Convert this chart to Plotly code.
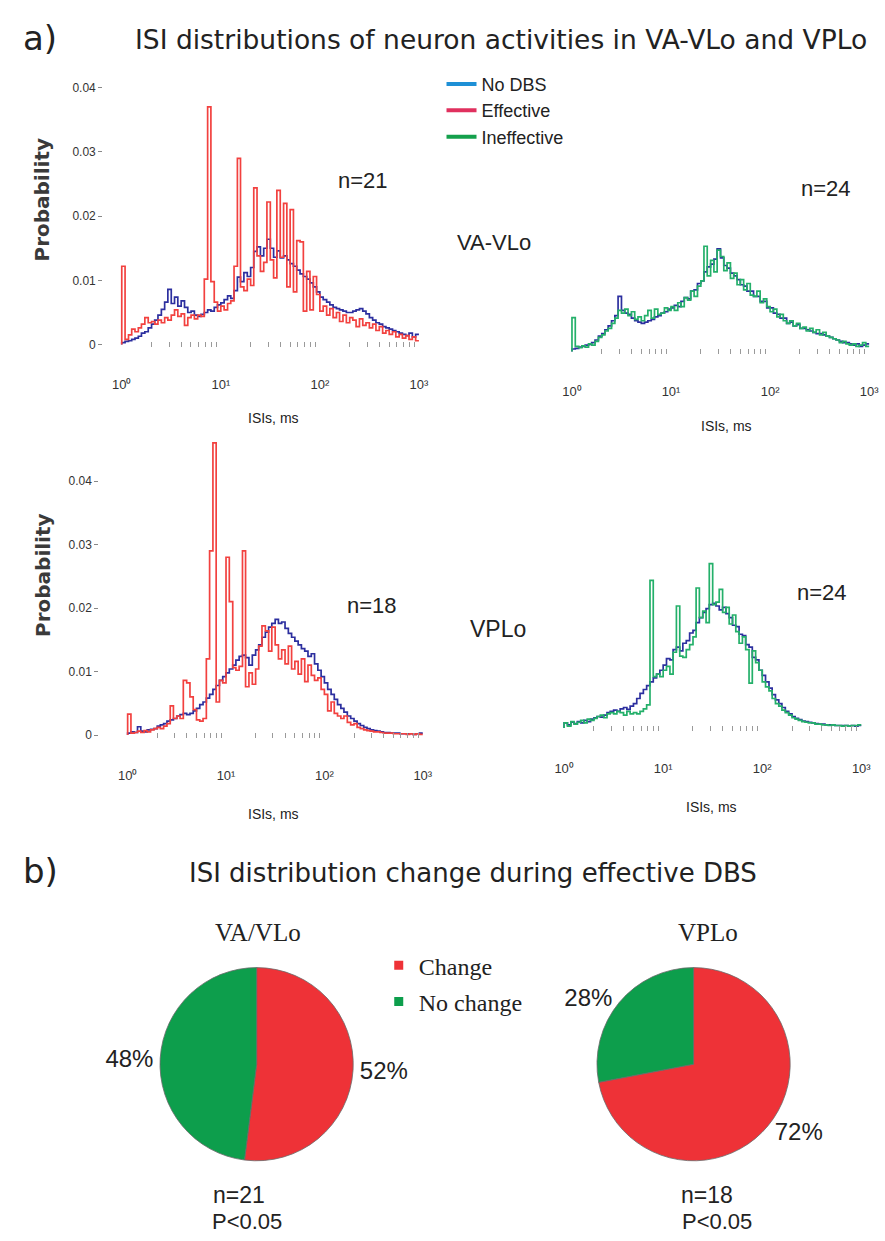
import plotly.graph_objects as go

W, H = 885, 1241


def px(x):
    return x / W


def py(y):
    return 1 - y / H


# ---------------- data ----------------
# left edges of ISI bins (ms), last value closes the final bin
isi_edges_ms = [
    1.00, 1.08, 1.17, 1.26, 1.36, 1.47, 1.58, 1.71, 1.85, 2.00,
    2.15, 2.32, 2.51, 2.71, 2.92, 3.16, 3.41, 3.68, 3.98, 4.30,
    4.64, 5.01, 5.41, 5.84, 6.31, 6.81, 7.36, 7.94, 8.58, 9.26,
    10.0, 10.8, 11.7, 12.6, 13.6, 14.7, 15.8, 17.1, 18.5, 20.0,
    21.5, 23.2, 25.1, 27.1, 29.2, 31.6, 34.1, 36.8, 39.8, 43.0,
    46.4, 50.1, 54.1, 58.4, 63.1, 68.1, 73.6, 79.4, 85.8, 92.6,
    100, 108, 117, 126, 136, 147, 158, 171, 185, 200,
    215, 232, 251, 271, 292, 316, 341, 368, 398, 430,
    464, 501, 541, 584, 631, 681, 736, 794, 858, 926,
    1000,
]

# probabilities per bin, in units of 1e-3
va_nodbs_eff = [
    0.3, 0.5, 0.6, 0.8, 1.0, 1.3, 1.8, 2.0, 2.6, 3.2,
    3.8, 4.6, 5.5, 6.6, 8.6, 6.4, 7.4, 6.0, 6.8, 5.8,
    5.0, 5.2, 4.6, 4.4, 4.7, 5.0, 5.4, 5.2, 5.8, 6.2,
    6.5, 7.0, 7.6, 7.2, 8.4, 10.5, 9.8, 11.2, 10.6, 12.0,
    14.5, 15.2, 13.8, 15.0, 16.4, 15.0, 13.6, 14.6, 13.5, 13.8,
    13.2, 12.6, 12.2, 11.6, 11.0, 10.6, 10.2, 9.6, 9.0, 8.2,
    7.4, 7.0, 6.6, 6.2, 5.8, 5.6, 5.4, 5.2, 5.0, 5.0,
    5.2, 5.4, 5.6, 5.2, 4.8, 4.2, 3.8, 3.4, 3.2, 2.8,
    2.6, 2.4, 2.2, 2.0, 1.8, 1.6, 1.4, 1.8, 1.2, 1.6,
]
va_effective = [
    12.2, 0.8, 1.5, 2.4, 2.0, 2.6, 3.2, 4.2, 3.4, 3.6,
    3.2, 3.8, 3.4, 4.2, 3.8, 4.6, 5.4, 4.4, 4.8, 3.0,
    4.2, 4.6, 4.0, 4.6, 4.4, 10.2, 37.0, 9.8, 6.6, 5.2,
    6.0, 5.4, 6.4, 6.8, 12.2, 29.0, 9.0, 8.4, 10.2, 9.2,
    24.4, 13.8, 11.4, 12.8, 22.2, 13.2, 10.4, 24.0, 13.6, 22.0,
    9.0, 21.0, 8.2, 16.2, 16.0, 5.2, 11.4, 5.4, 10.6, 7.8,
    5.2, 6.0, 4.6, 5.6, 4.2, 5.0, 3.6, 4.6, 3.4, 4.2,
    3.8, 2.8, 4.0, 3.0, 3.4, 2.6, 3.2, 2.2, 2.8, 1.8,
    2.2, 1.6, 2.0, 1.2, 1.6, 1.0, 1.4, 0.8, 1.2, 0.6,
]
va_nodbs_ineff = [
    0.4, 0.5, 0.7, 0.8, 1.0, 1.1, 1.4, 1.8, 2.4, 2.8,
    3.4, 4.0, 4.8, 5.6, 8.6, 6.4, 6.0, 5.8, 5.2, 4.8,
    4.6, 4.4, 4.6, 4.8, 5.0, 5.4, 5.6, 6.0, 6.2, 6.6,
    6.8, 7.2, 7.0, 7.8, 8.4, 8.2, 9.4, 9.6, 10.6, 11.0,
    12.4, 13.2, 13.6, 14.4, 16.0, 14.6, 13.4, 13.0, 12.2, 11.8,
    11.2, 10.4, 10.2, 9.4, 9.4, 8.6, 8.6, 7.8, 7.8, 6.8,
    6.8, 6.0, 5.8, 5.2, 5.2, 4.4, 4.6, 4.0, 4.2, 3.6,
    3.6, 3.4, 3.2, 3.0, 2.8, 2.8, 2.6, 2.4, 2.2, 2.0,
    1.8, 1.6, 1.4, 1.4, 1.2, 1.0, 1.2, 0.8, 1.0, 1.2,
]
va_ineffective = [
    5.3, 0.8, 0.6, 0.9, 0.7, 1.2, 1.0, 1.6, 2.2, 2.6,
    3.2, 3.6, 4.4, 5.2, 6.4, 6.0, 6.6, 5.6, 6.2, 5.0,
    5.4, 4.8, 5.6, 6.4, 5.2, 6.6, 5.8, 6.0, 6.8, 6.4,
    7.0, 6.4, 7.6, 7.0, 8.4, 8.0, 9.4, 8.6, 10.2, 11.0,
    16.4, 11.8, 14.2, 12.4, 15.8, 14.8, 12.6, 13.8, 11.4, 12.2,
    10.4, 11.2, 9.6, 10.6, 8.8, 8.6, 9.4, 7.6, 8.2, 7.0,
    6.2, 6.6, 5.4, 5.8, 4.8, 4.4, 4.8, 4.0, 4.4, 3.6,
    3.8, 3.2, 3.6, 3.0, 3.4, 2.6, 3.0, 2.4, 2.2, 2.0,
    1.8, 1.4, 1.6, 1.2, 1.0, 1.2, 0.8, 1.0, 1.4, 0.8,
]
vp_nodbs_eff = [
    0.3, 0.5, 0.4, 1.3, 0.6, 0.5, 0.8, 0.9, 1.0, 1.4,
    1.6, 1.8, 2.2, 2.4, 2.6, 3.0, 3.2, 3.4, 3.2, 3.4,
    3.8, 4.2, 4.8, 5.2, 5.8, 6.4, 7.2, 7.8, 8.6, 9.2,
    9.8, 10.4, 11.0, 11.8, 12.4, 12.6, 12.2, 11.0, 12.6, 13.4,
    14.2, 15.4, 16.2, 17.0, 17.6, 18.2, 17.6, 17.8, 16.8, 16.0,
    15.4, 14.8, 14.2, 13.6, 13.2, 12.4, 12.8, 11.2, 10.2, 9.2,
    8.2, 7.2, 6.4, 5.6, 4.8, 4.2, 3.6, 3.0, 2.6, 2.2,
    1.8, 1.5, 1.2, 1.0, 0.8, 0.7, 0.6, 0.5, 0.4, 0.4,
    0.3, 0.3, 0.3, 0.2, 0.2, 0.2, 0.2, 0.1, 0.2, 0.3,
]
vp_effective = [
    3.3, 0.3, 0.4, 0.6, 0.4, 0.7, 0.5, 0.8, 1.0, 1.2,
    1.0, 1.4, 1.8, 4.6, 2.6, 3.0, 2.6, 8.6, 8.2, 6.0,
    4.0, 2.4, 2.2, 2.6, 12.0, 29.0, 46.0, 5.2, 8.6, 8.2,
    28.0, 21.0, 10.6, 10.2, 10.8, 29.0, 7.6, 9.8, 8.0, 10.4,
    14.0, 17.2, 16.4, 13.2, 17.0, 14.2, 12.0, 13.4, 11.2, 14.0,
    10.4, 11.6, 9.6, 12.0, 8.4, 11.0, 9.4, 8.6, 9.0, 7.2,
    6.4, 3.8, 5.2, 3.4, 3.0, 2.6, 3.0, 2.0, 1.6, 1.8,
    1.2, 1.0, 0.8, 0.7, 0.6, 0.5, 0.5, 0.4, 0.3, 0.3,
    0.3, 0.2, 0.2, 0.2, 0.2, 0.1, 0.2, 0.1, 0.2, 0.1,
]
vp_nodbs_ineff = [
    0.8, 0.5, 0.9, 0.7, 1.0, 0.8, 1.2, 1.0, 1.4, 1.6,
    1.8, 1.7, 2.0, 2.4, 2.6, 2.8, 2.6, 3.0, 3.2, 2.9,
    3.4, 3.8, 4.6, 5.4, 6.0, 6.6, 7.2, 7.8, 8.4, 9.0,
    9.8, 10.8, 10.6, 12.2, 12.6, 12.0, 13.2, 13.6, 14.8, 15.2,
    16.4, 17.2, 18.0, 18.6, 19.2, 19.4, 19.0, 18.4, 18.8, 17.8,
    17.2, 16.0, 15.8, 14.6, 14.4, 13.0, 12.6, 11.0, 10.6, 9.0,
    8.2, 7.2, 6.2, 5.2, 4.4, 3.8, 3.2, 2.6, 2.2, 1.8,
    1.5, 1.3, 1.1, 1.0, 0.9, 0.8, 0.7, 0.6, 0.6, 0.5,
    0.5, 0.5, 0.4, 0.4, 0.4, 0.4, 0.3, 0.4, 0.3, 0.4,
]
vp_ineffective = [
    0.8, 0.3, 1.0, 0.6, 0.9, 1.2, 0.8, 1.4, 1.2, 1.5,
    1.8, 2.0, 1.6, 2.2, 2.4, 2.2, 2.6, 2.4, 2.0, 2.6,
    2.2, 2.4, 2.2, 2.6, 3.0, 3.6, 23.0, 8.0, 8.4, 8.0,
    9.0, 9.6, 8.4, 11.8, 19.0, 11.2, 11.0, 12.2, 13.0, 14.2,
    21.8, 17.2, 18.2, 16.4, 25.6, 19.2, 19.6, 21.6, 18.0, 18.8,
    16.2, 17.6, 15.0, 13.2, 14.2, 12.2, 7.0, 12.0, 10.2, 9.0,
    7.2, 6.4, 5.8, 4.6, 3.8, 3.4, 2.8, 2.4, 2.0, 1.6,
    1.4, 1.2, 1.0, 0.9, 0.8, 0.8, 0.6, 0.6, 0.5, 0.5,
    0.4, 0.5, 0.4, 0.4, 0.3, 0.4, 0.3, 0.4, 0.4, 0.5,
]

decade_ticks = [1, 10, 100, 1000]
decade_labels = ["10\u2070", "10\u00b9", "10\u00b2", "10\u00b3"]
minor_ticks = [2, 3, 4, 5, 6, 7, 8, 9, 20, 30, 40, 50, 60, 70, 80, 90,
               200, 300, 400, 500, 600, 700, 800, 900]
prob_ticks = [0, 0.01, 0.02, 0.03, 0.04]
prob_labels = ["0", "0.01", "0.02", "0.03", "0.04"]

legend_names = ["No DBS", "Effective", "Ineffective"]
pie_labels = ["Change", "No change"]
pie_vavlo = [52, 48]
pie_vplo = [72, 28]

# ---------------- style ----------------
C_BLUE = "#2c2f9f"
C_RED = "#f2413f"
C_GREEN = "#24b06a"
LEG_COLORS = ["#1e90d6", "#e0305e", "#14a04c"]
PIE_COLORS = ["#ee3237", "#0d9e4c"]
TXT = "#222222"
SANS = "Liberation Sans, Arial, sans-serif"
WIDE = "DejaVu Sans, Verdana, sans-serif"
SERIF = "Liberation Serif, Times New Roman, serif"

fig = go.Figure()


def hist_trace(vals, color, xa, ya):
    x = [isi_edges_ms[0]] + isi_edges_ms
    y = [0.0] + [v / 1000 for v in vals] + [vals[-1] / 1000]
    return go.Scatter(x=x, y=y, mode="lines", xaxis=xa, yaxis=ya,
                      line=dict(color=color, width=1.7, shape="hv"),
                      showlegend=False, hoverinfo="skip")


fig.add_trace(hist_trace(va_nodbs_eff, C_BLUE, "x", "y"))
fig.add_trace(hist_trace(va_effective, C_RED, "x", "y"))
fig.add_trace(hist_trace(va_nodbs_ineff, C_BLUE, "x2", "y2"))
fig.add_trace(hist_trace(va_ineffective, C_GREEN, "x2", "y2"))
fig.add_trace(hist_trace(vp_nodbs_eff, C_BLUE, "x3", "y3"))
fig.add_trace(hist_trace(vp_effective, C_RED, "x3", "y3"))
fig.add_trace(hist_trace(vp_nodbs_ineff, C_BLUE, "x4", "y4"))
fig.add_trace(hist_trace(vp_ineffective, C_GREEN, "x4", "y4"))

# legend entries for the histograms
for name, col in zip(legend_names, LEG_COLORS):
    fig.add_trace(go.Scatter(x=[None], y=[None], mode="lines", name=name,
                             line=dict(color=col, width=4), xaxis="x", yaxis="y",
                             legend="legend", showlegend=True, hoverinfo="skip"))

# legend entries for the pies
for name, col in zip(pie_labels, PIE_COLORS):
    fig.add_trace(go.Scatter(x=[None], y=[None], mode="markers", name=name,
                             marker=dict(color=col, symbol="square", size=9),
                             xaxis="x", yaxis="y", legend="legend2",
                             legendgroup=name, showlegend=True, hoverinfo="skip"))

for vals, cx in ((pie_vavlo, 253.5), (pie_vplo, 699.0)):
    r = 98.5
    cy = 1068.5
    fig.add_trace(go.Pie(
        labels=pie_labels, values=vals, sort=False, direction="clockwise",
        rotation=0, marker=dict(colors=PIE_COLORS, line=dict(color="#6a6a6a", width=0.8)),
        textposition="outside", texttemplate="%{percent:.0%}",
        outsidetextfont=dict(family=SANS, size=24, color=TXT),
        domain=dict(x=[px(cx - r), px(cx + r)], y=[py(cy + r), py(cy - r)]),
        showlegend=False, hoverinfo="skip"))


def xaxis_cfg(d0, d1, r0, anchor):
    return dict(type="log", domain=[px(d0), px(d1)], range=[r0, 3.01], anchor=anchor,
                showgrid=False, zeroline=False, showline=False,
                tickmode="array", tickvals=decade_ticks, ticktext=decade_labels,
                ticks="", ticklabelstandoff=28,
                tickfont=dict(family=SANS, size=13, color="#333"),
                minor=dict(tickmode="array", tickvals=minor_ticks, ticks="inside",
                           ticklen=5, tickwidth=1, tickcolor="#9a9a9a", showgrid=False))


def yaxis_cfg(base, scale, top, anchor, labels):
    bottom = -0.0004
    cfg = dict(domain=[py(base - bottom * scale), py(base - top * scale)],
               range=[bottom, top], anchor=anchor,
               showgrid=False, zeroline=False, showline=False)
    if labels:
        cfg.update(tickmode="array", tickvals=prob_ticks, ticktext=prob_labels,
                   ticks="outside", ticklen=4, tickwidth=1, tickcolor="#888",
                   tickfont=dict(family=SANS, size=12, color="#333"))
    else:
        cfg.update(showticklabels=False, ticks="")
    return cfg


annotations = []


def ann(text, x, y, size, family=SANS, color=TXT, angle=0, xanchor="center", weight="normal"):
    annotations.append(dict(text=text, x=px(x), y=py(y), xref="paper", yref="paper",
                            xanchor=xanchor, yanchor="middle", showarrow=False,
                            textangle=angle,
                            font=dict(family=family, size=size, color=color, weight=weight)))


ann("a)", 33, 38, 34, WIDE)
ann("ISI distributions of neuron activities in VA-VLo and VPLo", 127, 40, 26.5, WIDE, xanchor="left")
ann("b)", 33, 875, 34, WIDE)
ann("ISI distribution change during effective DBS", 183, 877, 26, WIDE, xanchor="left")

ann("n=21", 362, 181, 22)
ann("n=24", 834, 189, 22)
ann("VA-VLo", 496, 243, 22)
ann("n=18", 371, 608, 22)
ann("VPLo", 500, 632, 23)
ann("n=24", 830, 595, 22)

for x, y in ((271, 420), (733, 428), (271, 817), (717, 810)):
    ann("ISIs, ms", x, y, 14, SANS)
for y in (200, 577):
    ann("Probability", 35, y, 20, WIDE, color="#3a3a3a", angle=-90, weight="bold")

ann("VA/VLo", 255, 936, 25, SERIF)
ann("VPLo", 714, 936, 25, SERIF)
ann("n=21", 236, 1200, 23)
ann("P&lt;0.05", 244, 1226, 22)
ann("n=18", 713, 1200, 23)
ann("P&lt;0.05", 723, 1226, 22)

fig.update_layout(
    width=W, height=H, autosize=False,
    margin=dict(l=0, r=0, t=0, b=0),
    paper_bgcolor="white", plot_bgcolor="white",
    showlegend=True,
    xaxis=xaxis_cfg(97, 420, -0.188, "y"),
    yaxis=yaxis_cfg(346, 6450, 0.045, "x", True),
    xaxis2=xaxis_cfg(573, 879, -0.02, "y2"),
    yaxis2=yaxis_cfg(353, 6450, 0.045, "x2", False),
    xaxis3=xaxis_cfg(93, 423.9, -0.289, "y3"),
    yaxis3=yaxis_cfg(738, 6375, 0.049, "x3", True),
    xaxis4=xaxis_cfg(565, 871, -0.02, "y4"),
    yaxis4=yaxis_cfg(731, 6450, 0.045, "x4", False),
    legend=dict(x=px(442), y=py(66), xanchor="left", yanchor="top",
                bgcolor="rgba(0,0,0,0)", font=dict(family=SANS, size=18, color=TXT),
                tracegroupgap=0),
    legend2=dict(x=px(378), y=py(947), xanchor="left", yanchor="top",
                 bgcolor="rgba(0,0,0,0)", font=dict(family=SERIF, size=24, color=TXT),
                 traceorder="grouped", tracegroupgap=2),
    annotations=annotations,
)

fig.write_html("out.html", config={"displayModeBar": False},
               post_script="document.body.style.margin='0';")
